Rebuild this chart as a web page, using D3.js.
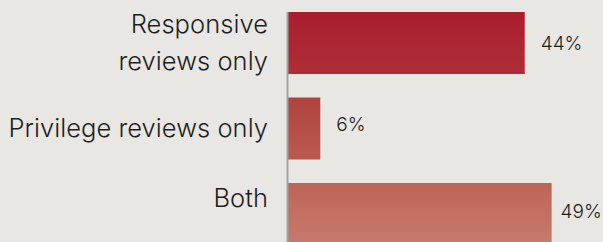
<!DOCTYPE html>
<html><head><meta charset="utf-8">
<script src="https://cdn.jsdelivr.net/npm/d3@7"></script>
<style>
html,body{margin:0;padding:0;background:#e8e7e3;}
svg{display:block;}
text{font-family:Inter, Roboto, sans-serif;font-weight:300;fill:#1e1e1e;}
</style></head><body>
<script>
const categories = ["Responsive reviews only", "Privilege reviews only", "Both"];
const labelLines = [["Responsive", "reviews only"], ["Privilege reviews only"], ["Both"]];
const values = [44, 6, 49];
const valueLabels = ["44%", "6%", "49%"];

const W = 603, H = 242;
const topColors = ["#a91d2e", "#b1423e", "#bd6457"];
const botColors = ["#ae2e37", "#bb5a50", "#c87a6e"];

const svg = d3.select("body").append("svg").attr("width", W).attr("height", H);
svg.append("rect").attr("width", W).attr("height", H).attr("fill", "#e8e7e3");

const x = d3.scaleLinear().domain([0, 100]).range([288, 826]);
const y = d3.scaleBand().domain(categories).range([12, 245]).paddingInner(0.275).paddingOuter(0);

const defs = svg.append("defs");
categories.forEach((c, i) => {
  const g = defs.append("linearGradient").attr("id", "g" + i).attr("x1", 0).attr("x2", 0).attr("y1", 0).attr("y2", 1);
  g.append("stop").attr("offset", "0%").attr("stop-color", topColors[i]);
  g.append("stop").attr("offset", "100%").attr("stop-color", botColors[i]);
});

svg.selectAll("rect.bar").data(values).join("rect")
  .attr("class", "bar")
  .attr("x", x(0))
  .attr("y", (d, i) => y(categories[i]))
  .attr("width", d => x(d) - x(0))
  .attr("height", y.bandwidth())
  .attr("fill", (d, i) => `url(#g${i})`);

svg.append("line")
  .attr("x1", x(0) - 0.5).attr("x2", x(0) - 0.5)
  .attr("y1", y(categories[0])).attr("y2", 245)
  .attr("stroke", "#a3a3a3").attr("stroke-width", 2);

// value labels
const valDy = [7, 2.5, 4];
svg.selectAll("text.val").data(values).join("text")
  .attr("class", "val")
  .attr("x", (d, i) => x(d) + (x(d) + 56 > W ? 9 : 16))
  .attr("y", (d, i) => y(categories[i]) + y.bandwidth() / 2 + valDy[i])
  .attr("font-size", 19)
  .text((d, i) => valueLabels[i]);

// category labels
const lineH = 37;
const catDy = [9, 8.5, -7];
categories.forEach((c, i) => {
  const lines = labelLines[i];
  const cy = y(c) + y.bandwidth() / 2 + catDy[i];
  const t = svg.append("text")
    .attr("text-anchor", "end")
    .attr("font-size", 25.5)
    .attr("letter-spacing", 0.05);
  lines.forEach((ln, j) => {
    t.append("tspan").attr("x", 268)
      .attr("y", cy + (j - (lines.length - 1) / 2) * lineH)
      .text(ln);
  });
});
</script>
</body></html>
